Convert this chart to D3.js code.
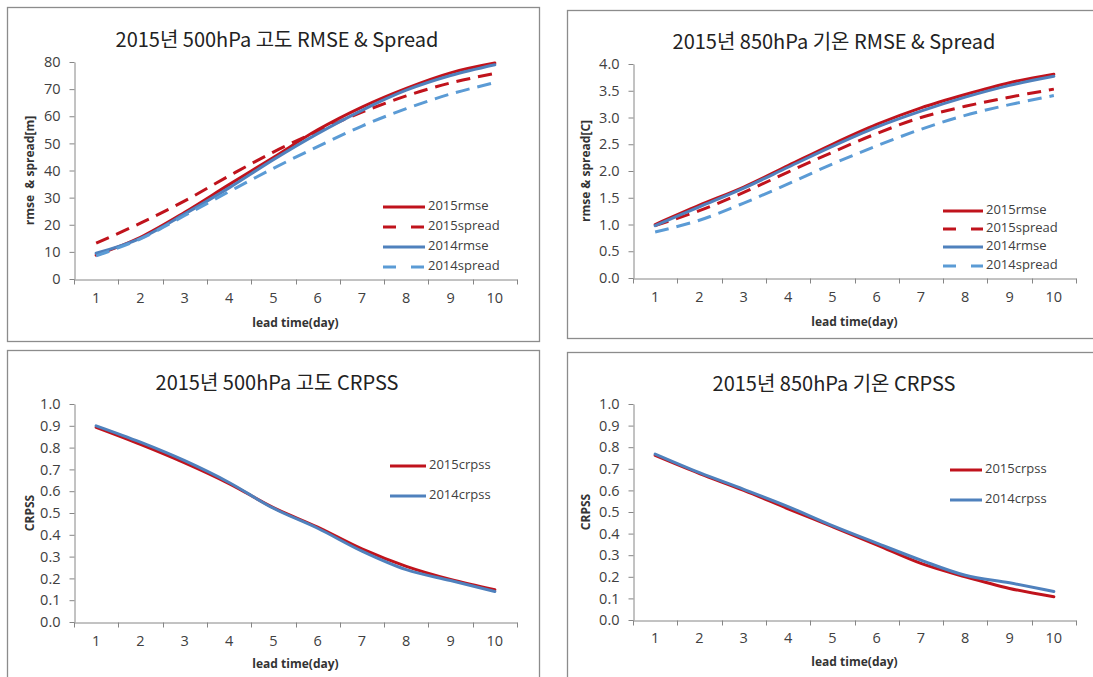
<!DOCTYPE html>
<html>
<head>
<meta charset="utf-8">
<script src="https://cdn.jsdelivr.net/npm/d3@7"></script>
<style>
  body { margin: 0; background: #fff; }
  svg { display: block; }
  .axis path, .axis line { stroke: #868686; }
  .axis text { font-family: 'Open Sans', sans-serif; font-size: 14.5px; fill: #404040; }
  .title { font-family: 'Noto Sans CJK KR', sans-serif; font-size: 20px; fill: #222; }
  .atitle { font-family: 'Open Sans', sans-serif; font-size: 12px; font-weight: bold; fill: #333; white-space: pre; }
  .legend text { font-family: 'Open Sans', sans-serif; font-size: 13px; fill: #404040; }
</style>
</head>
<body>
<svg id="chart" width="1093" height="677"></svg>
<script>
// lead time categories (x tick labels)
const days = [1, 2, 3, 4, 5, 6, 7, 8, 9, 10]

// y tick labels
const yTicksZ500 = [0, 10, 20, 30, 40, 50, 60, 70, 80]
const yTicksT850 = [0, 0.5, 1.0, 1.5, 2.0, 2.5, 3.0, 3.5, 4.0]
const yTicksCrpss = [0, 0.1, 0.2, 0.3, 0.4, 0.5, 0.6, 0.7, 0.8, 0.9, 1.0]

// 500hPa height rmse & spread [m]
const z500Rmse2015 = [8.8, 15.4, 24.6, 34.8, 44.8, 55.0, 63.4, 70.3, 76.0, 79.6]
const z500Spread2015 = [13.2, 20.6, 28.8, 38.0, 46.8, 54.5, 61.5, 67.5, 72.3, 75.8]
const z500Rmse2014 = [9.5, 15.0, 24.0, 33.6, 44.0, 53.6, 62.2, 69.6, 75.0, 79.0]
const z500Spread2014 = [8.5, 14.8, 23.4, 32.2, 40.8, 48.8, 56.4, 62.8, 68.2, 72.4]

// 850hPa temperature rmse & spread [C]
const t850Rmse2015 = [1.00, 1.36, 1.70, 2.10, 2.50, 2.87, 3.18, 3.43, 3.65, 3.81]
const t850Spread2015 = [0.98, 1.26, 1.60, 1.98, 2.35, 2.70, 3.00, 3.21, 3.38, 3.53]
const t850Rmse2014 = [0.98, 1.33, 1.68, 2.07, 2.46, 2.82, 3.12, 3.38, 3.60, 3.77]
const t850Spread2014 = [0.86, 1.08, 1.40, 1.76, 2.13, 2.47, 2.78, 3.04, 3.24, 3.41]

// CRPSS
const z500Crpss2015 = [0.893, 0.815, 0.73, 0.635, 0.525, 0.435, 0.335, 0.255, 0.195, 0.148]
const z500Crpss2014 = [0.900, 0.825, 0.74, 0.640, 0.522, 0.430, 0.325, 0.240, 0.190, 0.140]
const t850Crpss2015 = [0.762, 0.678, 0.600, 0.515, 0.432, 0.348, 0.262, 0.200, 0.146, 0.108]
const t850Crpss2014 = [0.768, 0.682, 0.605, 0.525, 0.437, 0.356, 0.277, 0.207, 0.172, 0.132]

const red = '#c0131c'
const blue = '#4f81bd'
const lightBlue = '#5b9bd5'

let svg = d3.select('#chart')

let panels = [
  {
    box: [7, 7, 539, 341],
    plot: {left: 74, right: 517, top: 62, bottom: 279},
    title: '2015년 500hPa 고도 RMSE & Spread', titleY: 47,
    yTitle: 'rmse  & spread[m]', yTitleX: 30,
    yTicks: yTicksZ500, fmt: 'd',
    xLabelY: 299, xTitleY: 327,
    series: [
      {name: '2015rmse', values: z500Rmse2015, color: red, dash: null},
      {name: '2015spread', values: z500Spread2015, color: red, dash: '14,8'},
      {name: '2014rmse', values: z500Rmse2014, color: blue, dash: null},
      {name: '2014spread', values: z500Spread2014, color: lightBlue, dash: '14,8'}
    ],
    legend: {x0: 383, x1: 425, rows: [207, 227, 247, 267]}
  },
  {
    box: [567, 10, 1100, 338],
    plot: {left: 633, right: 1076, top: 64, bottom: 278},
    title: '2015년 850hPa 기온 RMSE & Spread', titleY: 49,
    yTitle: 'rmse & spread[C]', yTitleX: 586,
    yTicks: yTicksT850, fmt: '.1f',
    xLabelY: 298, xTitleY: 326,
    series: [
      {name: '2015rmse', values: t850Rmse2015, color: red, dash: null},
      {name: '2015spread', values: t850Spread2015, color: red, dash: '14,8'},
      {name: '2014rmse', values: t850Rmse2014, color: blue, dash: null},
      {name: '2014spread', values: t850Spread2014, color: lightBlue, dash: '14,8'}
    ],
    legend: {x0: 943, x1: 983, rows: [211, 229, 247, 266]}
  },
  {
    box: [7, 350, 539, 700],
    plot: {left: 74, right: 517, top: 404, bottom: 622},
    title: '2015년 500hPa 고도 CRPSS', titleY: 390,
    yTitle: 'CRPSS', yTitleX: 30,
    yTicks: yTicksCrpss, fmt: '.1f',
    xLabelY: 642, xTitleY: 668,
    series: [
      {name: '2015crpss', values: z500Crpss2015, color: red, dash: null},
      {name: '2014crpss', values: z500Crpss2014, color: blue, dash: null}
    ],
    legend: {x0: 390, x1: 426, rows: [466, 496]}
  },
  {
    box: [567, 352, 1100, 700],
    plot: {left: 633, right: 1076, top: 404, bottom: 620},
    title: '2015년 850hPa 기온 CRPSS', titleY: 391,
    yTitle: 'CRPSS', yTitleX: 586,
    yTicks: yTicksCrpss, fmt: '.1f',
    xLabelY: 639, xTitleY: 666,
    series: [
      {name: '2015crpss', values: t850Crpss2015, color: red, dash: null},
      {name: '2014crpss', values: t850Crpss2014, color: blue, dash: null}
    ],
    legend: {x0: 950, x1: 982, rows: [470, 500]}
  }
]

function drawPanel (p) {
  let g = svg.append('g')

  // chart frame
  g.append('rect')
    .attr('x', p.box[0] + 0.5)
    .attr('y', p.box[1] + 0.5)
    .attr('width', p.box[2] - p.box[0])
    .attr('height', p.box[3] - p.box[1])
    .attr('fill', '#fff')
    .attr('stroke', '#8c8c8c')
    .attr('stroke-width', 1.3)

  let x = d3.scaleBand().domain(days).range([p.plot.left, p.plot.right])
  let y = d3.scaleLinear()
    .domain([p.yTicks[0], p.yTicks[p.yTicks.length - 1]])
    .range([p.plot.bottom, p.plot.top])

  // y axis
  g.append('g')
    .attr('class', 'axis')
    .attr('transform', 'translate(' + (p.plot.left + 0.5) + ',0)')
    .call(d3.axisLeft(y).tickValues(p.yTicks).tickFormat(d3.format(p.fmt))
      .tickSize(5).tickSizeOuter(0).tickPadding(9))

  // x axis, labels centred on categories
  let gx = g.append('g')
    .attr('class', 'axis')
    .attr('transform', 'translate(0,' + (p.plot.bottom + 0.5) + ')')
    .call(d3.axisBottom(x).tickSize(0).tickSizeOuter(0).tickPadding(0))
  gx.selectAll('.tick text')
    .attr('dy', null)
    .attr('y', p.xLabelY - p.plot.bottom)
    .attr('dominant-baseline', 'middle')

  // category boundary ticks
  let bounds = days.map((d) => x(d)).concat([x.range()[1]])
  gx.selectAll('.bound').data(bounds).join('line')
    .attr('class', 'bound')
    .attr('x1', (d) => Math.round(d) + 0.5)
    .attr('x2', (d) => Math.round(d) + 0.5)
    .attr('y1', 0)
    .attr('y2', 5)

  // titles
  g.append('text')
    .attr('class', 'title')
    .attr('x', (p.box[0] + Math.min(p.box[2], 1093)) / 2 + 4)
    .attr('y', p.titleY)
    .attr('text-anchor', 'middle')
    .text(p.title)

  g.append('text')
    .attr('class', 'atitle')
    .attr('x', (p.plot.left + p.plot.right) / 2)
    .attr('y', p.xTitleY)
    .attr('text-anchor', 'middle')
    .text('lead time(day)')

  g.append('text')
    .attr('class', 'atitle')
    .attr('transform', 'translate(' + (p.yTitleX + 4) + ',' + ((p.plot.top + p.plot.bottom) / 2) + ') rotate(-90)')
    .attr('text-anchor', 'middle')
    .text(p.yTitle)

  // series lines, smoothed like the spreadsheet original
  let line = d3.line()
    .x((d, i) => x(days[i]) + x.bandwidth() / 2)
    .y((d) => y(d))
    .curve(d3.curveCatmullRom.alpha(0))

  p.series.forEach(function (s) {
    g.append('path').datum(s.values)
      .attr('fill', 'none')
      .attr('stroke', s.color)
      .attr('stroke-width', 3)
      .attr('stroke-linecap', s.dash ? 'butt' : 'round')
      .attr('stroke-dasharray', s.dash)
      .attr('d', line)
  })

  // legend
  let lg = g.append('g').attr('class', 'legend')
  p.series.forEach(function (s, i) {
    let ly = p.legend.rows[i]
    lg.append('line')
      .attr('x1', p.legend.x0)
      .attr('x2', p.legend.x1)
      .attr('y1', ly)
      .attr('y2', ly)
      .attr('stroke', s.color)
      .attr('stroke-width', 3)
      .attr('stroke-dasharray', s.dash ? '13,15' : null)
    lg.append('text')
      .attr('x', p.legend.x1 + 3)
      .attr('y', ly)
      .attr('dominant-baseline', 'middle')
      .text(s.name)
  })
}

panels.forEach(drawPanel)
</script>
</body>
</html>
